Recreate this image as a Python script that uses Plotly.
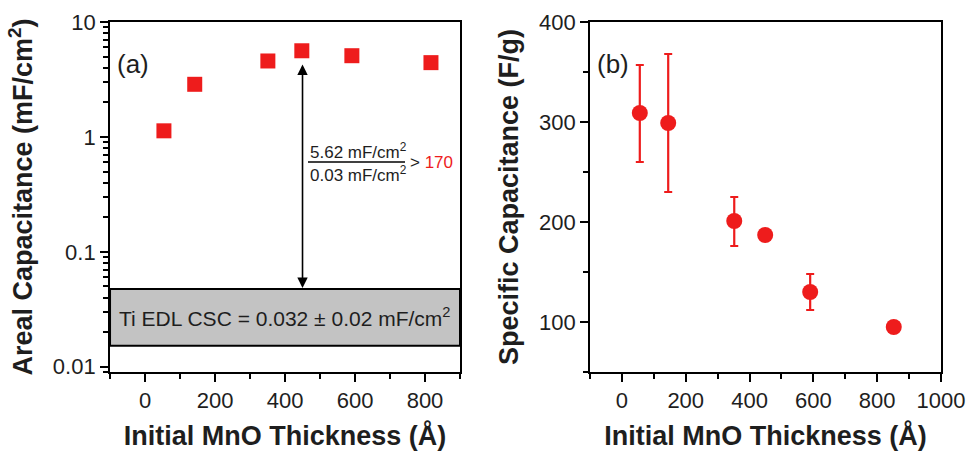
import numpy as np
import plotly.graph_objects as go

# ---- data ----
thick_a = [54, 142, 351, 448, 591, 817]
areal_cap = [1.13, 2.87, 4.58, 5.62, 5.09, 4.43]

thick_b = [56, 145, 352, 449, 590, 852]
spec_cap = [309, 299, 201, 187, 130, 95]
spec_err_plus = [48, 69, 24, 5, 18, 4]
spec_err_minus = [49, 69, 25, 5, 18, 4]

ti_band = [0.0152, 0.0474]          # Ti EDL CSC band (mF/cm2)
arrow_x = 450
arrow_top = 4.4
arrow_bottom = 0.0485

a_yticks = [0.01, 0.1, 1, 10]
a_yticktext = ["0.01", "0.1", "1", "10"]
a_xticks = [0, 200, 400, 600, 800]
b_xticks = [0, 200, 400, 600, 800, 1000]
b_yticks = [100, 200, 300, 400]

A_YRANGE = [np.log10(0.009), 1.0]

RED = "#ee1c1c"
FONT = "Arial, Liberation Sans, sans-serif"
TXT = "#1e1e1e"

fig = go.Figure()

fig.add_trace(go.Scatter(
    x=thick_a, y=areal_cap, mode="markers",
    marker=dict(symbol="square", size=15, color=RED),
    xaxis="x", yaxis="y", showlegend=False))

fig.add_trace(go.Scatter(
    x=thick_b, y=spec_cap, mode="markers",
    marker=dict(symbol="circle", size=16, color=RED),
    error_y=dict(type="data", array=spec_err_plus, arrayminus=spec_err_minus,
                 color=RED, thickness=2.2, width=4),
    xaxis="x2", yaxis="y2", showlegend=False))

axis_common = dict(showline=True, linecolor="black", linewidth=2, mirror=True,
                   ticks="outside", ticklen=8, tickwidth=2, tickcolor="black",
                   showgrid=False, zeroline=False, automargin=False,
                   tickfont=dict(family=FONT, size=22, color=TXT))
minor_common = dict(ticks="outside", ticklen=5, tickwidth=2, tickcolor="black")
title_font = dict(size=27, family=FONT, color=TXT)

minor_log = [m * 10.0 ** e for e in range(-3, 1) for m in range(2, 10)]

fig.update_layout(
    width=966, height=451,
    margin=dict(l=0, r=0, t=0, b=0),
    paper_bgcolor="white", plot_bgcolor="white",
    font=dict(family=FONT, color=TXT),
    xaxis=dict(domain=[0.1139, 0.4762], range=[-100, 900], tickvals=a_xticks,
               minor=dict(tickvals=[-100, 100, 300, 500, 700, 900], **minor_common),
               title=dict(text="<b>Initial MnO Thickness (Å)</b>", font=title_font, standoff=14),
               anchor="y", **axis_common),
    yaxis=dict(domain=[0.1752, 0.9512], type="log",
               range=A_YRANGE, tickvals=a_yticks, ticktext=a_yticktext,
               minor=dict(tickvals=minor_log, **minor_common),
               title=dict(text="<b>Areal Capacitance (mF/cm<sup>2</sup>)</b>",
                          font=title_font, standoff=12),
               anchor="x", **axis_common),
    xaxis2=dict(domain=[0.6108, 0.9741], range=[-100, 1000], tickvals=b_xticks,
                minor=dict(tickvals=[-100, 100, 300, 500, 700, 900], **minor_common),
                title=dict(text="<b>Initial MnO Thickness (Å)</b>", font=title_font, standoff=14),
                anchor="y2", **axis_common),
    yaxis2=dict(domain=[0.1752, 0.9512], range=[50, 400], tickvals=b_yticks,
                minor=dict(tickvals=[50, 150, 250, 350], **minor_common),
                title=dict(text="<b>Specific Capacitance (F/g)</b>", font=title_font, standoff=12),
                anchor="x2", **axis_common),
)


def a_dom(v):
    """fraction of the (a) y-axis domain for a data value on the log axis"""
    return (np.log10(v) - A_YRANGE[0]) / (A_YRANGE[1] - A_YRANGE[0])


# grey band
fig.add_shape(type="rect", xref="x", yref="y domain", x0=-100, x1=900,
              y0=a_dom(ti_band[0]), y1=a_dom(ti_band[1]),
              fillcolor="#c3c3c3", line=dict(color="black", width=2), layer="above")

fig.add_annotation(x=400, y=(np.log10(ti_band[0]) + np.log10(ti_band[1])) / 2,
                   xref="x", yref="y", showarrow=False,
                   text="Ti EDL CSC = 0.032 ± 0.02 mF/cm<sup>2</sup>",
                   font=dict(size=21, family=FONT, color=TXT))

# double arrow
fig.add_annotation(x=arrow_x, y=np.log10(arrow_bottom), ax=arrow_x, ay=np.log10(arrow_top),
                   xref="x", yref="y", axref="x", ayref="y", text="",
                   showarrow=True, arrowhead=2, startarrowhead=2, arrowside="end+start",
                   arrowwidth=1.6, arrowsize=1.3, startarrowsize=1.3, arrowcolor="black")

# fraction annotation
fig.add_annotation(x=358 / 966, y=1 - 151 / 451, xref="paper", yref="paper",
                   showarrow=False, text="5.62 mF/cm<sup>2</sup>",
                   font=dict(size=17, family=FONT, color=TXT))
fig.add_annotation(x=358 / 966, y=1 - 174 / 451, xref="paper", yref="paper",
                   showarrow=False, text="0.03 mF/cm<sup>2</sup>",
                   font=dict(size=17, family=FONT, color=TXT))
fig.add_shape(type="line", xref="paper", yref="paper",
              x0=308 / 966, x1=405 / 966, y0=1 - 162 / 451, y1=1 - 162 / 451,
              line=dict(color="black", width=1.3))
fig.add_annotation(x=408 / 966, y=1 - 163 / 451, xref="paper", yref="paper",
                   xanchor="left", showarrow=False,
                   text="> <span style='color:" + RED + "'>170</span>",
                   font=dict(size=17, family=FONT, color=TXT))

# panel labels
fig.add_annotation(x=115 / 966, y=1 - 47 / 451, xref="paper", yref="paper",
                   xanchor="left", showarrow=False, text="(a)",
                   font=dict(size=26, family=FONT, color=TXT))
fig.add_annotation(x=595 / 966, y=1 - 47 / 451, xref="paper", yref="paper",
                   xanchor="left", showarrow=False, text="(b)",
                   font=dict(size=26, family=FONT, color=TXT))

fig.write_html("out.html", config={"displayModeBar": False},
               post_script="document.body.style.margin='0';document.body.style.overflow='hidden';")
